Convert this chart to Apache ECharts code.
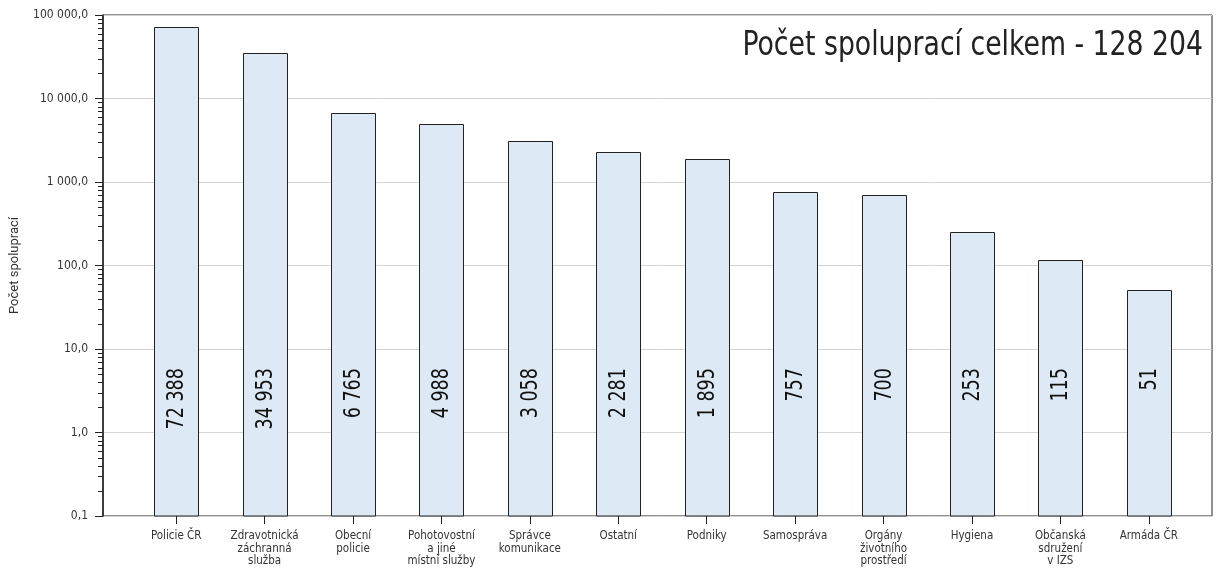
<!DOCTYPE html>
<html>
<head>
<meta charset="utf-8">
<script src="https://cdn.jsdelivr.net/npm/echarts@6/dist/echarts.min.js"></script>
<style>
  html, body { margin: 0; padding: 0; background: #fff; }
  #chart { width: 1229px; height: 575px; }
</style>
</head>
<body>
<div id="chart"></div>
<script>
// kategorie a hodnoty
var categories = [
  'Policie ČR', 'Zdravotnická\nzáchranná\nslužba', 'Obecní\npolicie',
  'Pohotovostní\na jiné\nmístní služby', 'Správce\nkomunikace', 'Ostatní',
  'Podniky', 'Samospráva', 'Orgány\nživotního\nprostředí', 'Hygiena',
  'Občanská\nsdružení\nv IZS', 'Armáda ČR'
];
var values = [72388, 34953, 6765, 4988, 3058, 2281, 1895, 757, 700, 253, 115, 51];
var yMin = 0.1;
var yMax = 100000;
var titleText = 'Počet spoluprací celkem - 128 204';
var yName = 'Počet spoluprací';

var narrow = "'DejaVu Sans Condensed', 'Liberation Sans Narrow', 'Roboto', sans-serif";

// vedlejsi dilky logaritmicke osy (2..9 v kazde dekade)
var minorTicks = [];
for (var d = yMin; d < yMax; d *= 10) {
  for (var m = 2; m <= 9; m++) minorTicks.push(+(d * m).toPrecision(3));
}

function groupNum (s) {
  return s.replace(/\B(?=(\d{3})+(?!\d))/g, ' ');
}
function fmtAxis (v) {
  var parts = (+v).toFixed(1).split('.');
  return groupNum(parts[0]) + ',' + parts[1];
}

var barData = values.map(function (v, i) { return [i, v]; });

var chart = echarts.init(document.getElementById('chart'));
chart.setOption({
  animation: false,
  graphic: [{
    type: 'text',
    x: 1203,
    y: 46,
    scaleX: 0.9,
    style: {
      text: titleText,
      align: 'right',
      verticalAlign: 'middle',
      font: "33px " + narrow,
      fill: '#222'
    }
  }],
  grid: [
    { left: 103, right: 17, top: 15, bottom: 59, show: true, borderColor: '#222', borderWidth: 1, backgroundColor: 'transparent' },
    { left: 132, right: 36, top: 15, bottom: 59 }
  ],
  xAxis: [
    { gridIndex: 0, type: 'value', min: 0, max: 1, show: false },
    {
      gridIndex: 1, type: 'category', data: categories,
      axisLine: { show: false },
      axisTick: { show: true, alignWithLabel: true, length: 8, lineStyle: { color: '#222' } },
      axisLabel: { fontFamily: narrow, fontSize: 11.5, color: '#333', margin: 14, lineHeight: 12.5, interval: 0 }
    }
  ],
  yAxis: [
    {
      gridIndex: 0, type: 'log', logBase: 10, min: yMin, max: yMax,
      name: yName, nameLocation: 'middle', nameGap: 82,
      nameTextStyle: { fontFamily: 'Roboto, sans-serif', fontSize: 13, color: '#333' },
      axisLine: { show: true, lineStyle: { color: '#222', width: 1.5 } },
      axisTick: { show: true, length: 8, lineStyle: { color: '#222' } },
      axisLabel: { fontFamily: narrow, fontSize: 12, color: '#333', margin: 15, formatter: fmtAxis },
      splitLine: { show: true, lineStyle: { color: '#d4d4d4' } }
    },
    { gridIndex: 1, type: 'log', logBase: 10, min: yMin, max: yMax, show: false }
  ],
  series: [
    {
      type: 'custom',
      xAxisIndex: 0, yAxisIndex: 0,
      silent: true,
      clip: false,
      data: minorTicks,
      encode: { y: 0 },
      renderItem: function (params, api) {
        var p = api.coord([0, api.value(0)]);
        var y = Math.round(p[1]) + 0.5;
        return {
          type: 'line',
          shape: { x1: p[0] - 5, y1: y, x2: p[0], y2: y },
          style: { stroke: '#222', lineWidth: 1 }
        };
      }
    },
    {
      // sloupce od spodni hranice osy + svisle popisky
      type: 'custom',
      xAxisIndex: 1, yAxisIndex: 1,
      data: barData,
      encode: { x: 0, y: 1 },
      renderItem: function (params, api) {
        var top = api.coord([api.value(0), api.value(1)]);
        var base = api.coord([api.value(0), yMin]);
        var w = 44;
        var x0 = Math.round(top[0] - w / 2) + 0.5;
        var y0 = Math.round(top[1]) + 0.5;
        return {
          type: 'group',
          children: [
            {
              type: 'rect',
              shape: { x: x0, y: y0, width: w, height: base[1] - y0 },
              style: { fill: '#ddeaf6', stroke: '#222', lineWidth: 1 }
            },
            {
              type: 'text',
              x: top[0] + 1,
              y: base[1] - 148,
              rotation: Math.PI / 2,
              scaleX: 0.85,
              style: {
                text: groupNum(String(api.value(1))),
                align: 'right',
                verticalAlign: 'middle',
                font: '23px ' + narrow,
                fill: '#111'
              }
            }
          ]
        };
      }
    }
  ]
});
</script>
</body>
</html>
